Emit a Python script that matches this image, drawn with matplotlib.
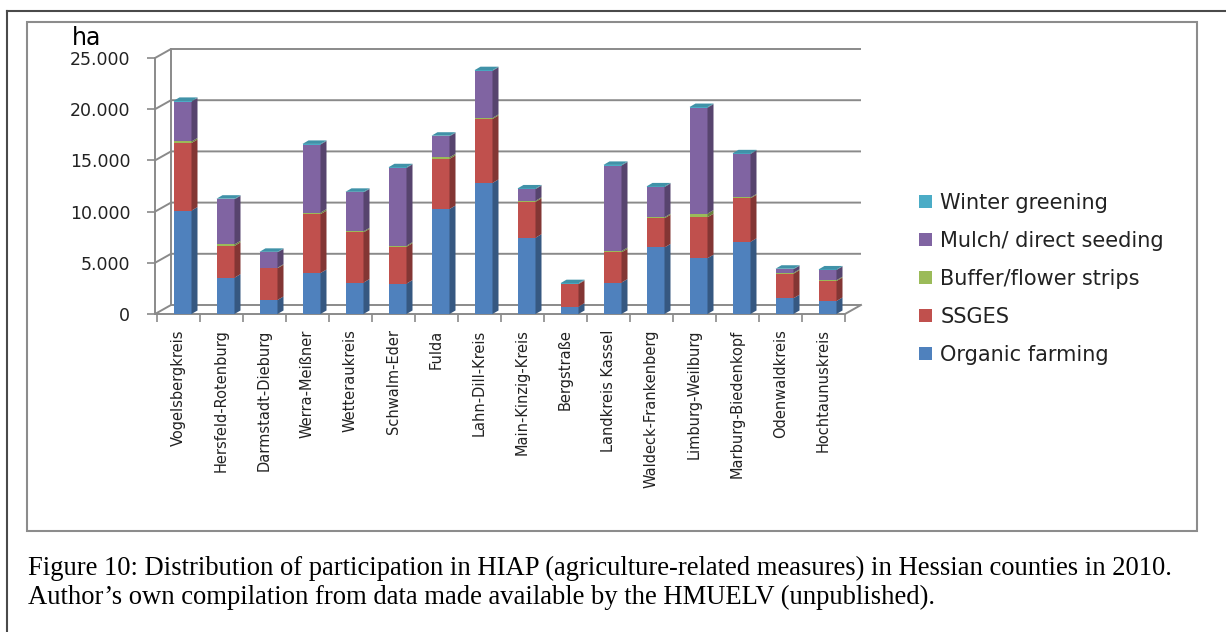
import matplotlib
matplotlib.use("Agg")
import matplotlib.pyplot as plt
from matplotlib.patches import Polygon, Rectangle, Patch
from matplotlib.lines import Line2D
from matplotlib.colors import to_rgb
from matplotlib.ticker import FuncFormatter

# --- data (ha) ---
counties = ["Vogelsbergkreis", "Hersfeld-Rotenburg", "Darmstadt-Dieburg", "Werra-Meißner",
            "Wetteraukreis", "Schwalm-Eder", "Fulda", "Lahn-Dill-Kreis", "Main-Kinzig-Kreis",
            "Bergstraße", "Landkreis Kassel", "Waldeck-Frankenberg", "Limburg-Weilburg",
            "Marburg-Biedenkopf", "Odenwaldkreis", "Hochtaunuskreis"]
organic = [10100, 3550, 1370, 4000, 3070, 2970, 10250, 12800, 7450, 720, 3070, 6500, 5450, 7050, 1540, 1270]
ssges = [6600, 3100, 3100, 5750, 4900, 3600, 4900, 6250, 3500, 2200, 2950, 2850, 4000, 4250, 2400, 1950]
buffer_strips = [150, 150, 50, 150, 100, 100, 150, 100, 100, 20, 130, 100, 350, 80, 80, 80]
mulch = [3900, 4400, 1500, 6650, 3800, 7600, 2050, 4600, 1150, 30, 8350, 2950, 10350, 4250, 350, 1000]
winter = [60, 60, 50, 60, 60, 60, 60, 60, 60, 40, 60, 60, 60, 60, 50, 50]

series = [organic, ssges, buffer_strips, mulch, winter]
names = ["Organic farming", "SSGES", "Buffer/flower strips", "Mulch/ direct seeding", "Winter greening"]
colors = ["#4F81BD", "#C0504D", "#9BBB59", "#8064A2", "#4BACC6"]
yticks = [0, 5000, 10000, 15000, 20000, 25000]

W, H = 1226, 632
plt.rcParams["font.family"] = ["DejaVu Sans"]
fig = plt.figure(figsize=(W / 100, H / 100), dpi=100)

# axes box in pixels: front y axis at x=155, value 0 at y=314
px_x = 43.0            # pixels per category
px_y = 256.0 / 25000   # pixels per ha
ax_l, ax_r, ax_t, ax_b = 155, 880, 40, 314
x0 = (ax_l - 157) / px_x - 0.5
x1 = (ax_r - 157) / px_x - 0.5
ax = fig.add_axes([ax_l / W, 1 - ax_b / H, (ax_r - ax_l) / W, (ax_b - ax_t) / H])
ax.set_xlim(x0, x1)
ax.set_ylim(0, (ax_b - ax_t) / px_y)
ax.patch.set_visible(False)

grid_c = "#8a8a8a"
# depth offsets of the walls and bars (pixels -> data)
wdx, wdy = 16 / px_x, 9 / px_y
bdx, bdy = 6 / px_x, 3.5 / px_y
xr_wall = 15.5 + wdx

# left wall / back wall gridlines
for v in yticks:
    ax.plot([x0, x0 + wdx, xr_wall], [v, v + wdy, v + wdy], color=grid_c, lw=1.4,
            clip_on=False, zorder=1, solid_capstyle="butt")
ax.plot([x0 + wdx, x0 + wdx], [wdy, 25000 + wdy], color=grid_c, lw=1.4, clip_on=False, zorder=1)
# floor
ax.plot([15.5, xr_wall], [0, wdy], color=grid_c, lw=1.4, clip_on=False, zorder=1)


def shade(c, f):
    r, g, b = to_rgb(c)
    return (r * f, g * f, b * f)


# 3D-looking stacked bars
bw = 18 / px_x
shift = 4 / px_x
for i in range(len(counties)):
    xl = i + shift - bw / 2
    xr = xl + bw
    bottom = 0
    top_color = None
    for s, c in zip(series, colors):
        h = s[i]
        if h <= 0:
            continue
        ax.bar(xl, h, width=bw, bottom=bottom, align="edge", color=c, lw=0, zorder=3)
        side = Polygon([(xr, bottom), (xr + bdx, bottom + bdy), (xr + bdx, bottom + h + bdy), (xr, bottom + h)],
                       closed=True, facecolor=shade(c, 0.68), lw=0, zorder=3)
        ax.add_patch(side)
        bottom += h
        top_color = c
    topf = Polygon([(xl, bottom), (xl + bdx, bottom + bdy), (xr + bdx, bottom + bdy), (xr, bottom)],
                   closed=True, facecolor=shade(top_color, 0.85), lw=0, zorder=3, clip_on=False)
    ax.add_patch(topf)

# axes / ticks
for sp in ["top", "right"]:
    ax.spines[sp].set_visible(False)
ax.spines["left"].set_bounds(0, 25000)
ax.spines["bottom"].set_bounds(x0, 15.5)
for sp in ["left", "bottom"]:
    ax.spines[sp].set_color(grid_c)
    ax.spines[sp].set_linewidth(1.4)
    ax.spines[sp].set_zorder(2)

ax.set_yticks(yticks)
ax.yaxis.set_major_formatter(FuncFormatter(lambda v, p: f"{int(v):,}".replace(",", ".")))
ax.tick_params(axis="y", length=5.8, width=1.2, color=grid_c, pad=12, labelsize=12.5, labelcolor="#222222")

ax.set_xticks(range(len(counties)))
ax.set_xticklabels(counties, rotation=90, fontsize=10.5, color="#222222")
ax.set_xticks([k - 0.5 for k in range(len(counties) + 1)], minor=True)
ax.tick_params(axis="x", which="major", length=0, pad=11)
ax.tick_params(axis="x", which="minor", length=5.8, width=1.2, color=grid_c)

fig.text(87 / W, 1 - 38 / H, "ha", fontsize=17, ha="center", va="center", color="black")

# legend (reverse order, as in the original)
handles = [Patch(facecolor=c, edgecolor="none") for c in colors][::-1]
fig.legend(handles, names[::-1], loc="upper left", bbox_to_anchor=(919 / W, 1 - 193 / H),
           frameon=False, fontsize=15, handlelength=0.62, handleheight=0.62,
           handletextpad=0.4, labelspacing=0.86, borderpad=0, borderaxespad=0,
           labelcolor="#222222")

# frames
fig.add_artist(Rectangle((27 / W, 1 - 531 / H), (1197 - 27) / W, (531 - 22) / H,
                         transform=fig.transFigure, fill=False, edgecolor="#8c8c8c", lw=1.5))
fig.add_artist(Line2D([7 / W, 7 / W], [0, 1 - 11 / H], transform=fig.transFigure, color="#4a4a4a", lw=1.5))
fig.add_artist(Line2D([7 / W, 1], [1 - 11 / H, 1 - 11 / H], transform=fig.transFigure, color="#4a4a4a", lw=1.5))

# caption
cap = dict(fontsize=19.2, family="Liberation Serif", ha="left", va="center", color="black")
fig.text(28 / W, 1 - 568 / H,
         "Figure 10: Distribution of participation in HIAP (agriculture-related measures) in Hessian counties in 2010.",
         **cap)
fig.text(28 / W, 1 - 597 / H,
         "Author\u2019s own compilation from data made available by the HMUELV (unpublished).", **cap)

fig.savefig("out.png", dpi=100)
